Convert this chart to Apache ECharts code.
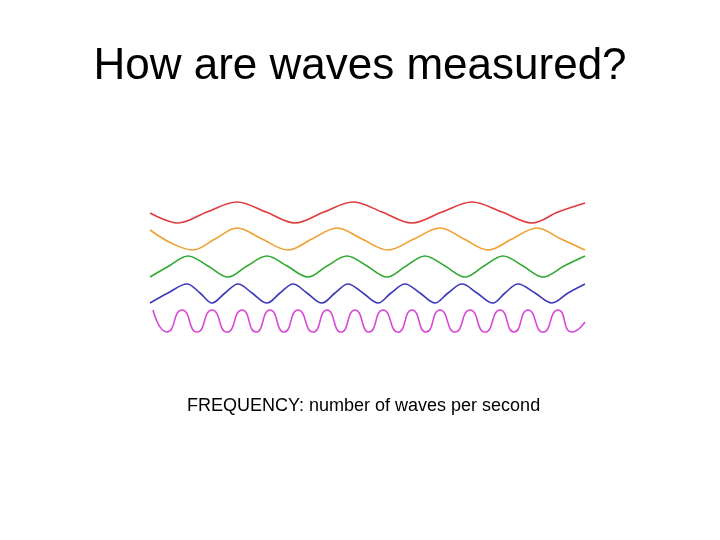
<!DOCTYPE html>
<html><head><meta charset="utf-8">
<script src="https://cdn.jsdelivr.net/npm/echarts@6/dist/echarts.min.js"></script>
<style>html,body{margin:0;padding:0;background:#fff}#c{width:720px;height:540px}</style>
</head><body><div id="c"></div>
<script>
// Wave extremes and crossings (x, y in slide pixels)
const redWave = [[150,213],[178,223],[207,212],[237,202],[266,212],[295,223],[324,212],[353,202],[382,212],[412,223],[442,212],[472,202],[502,212],[532,223],[558,212],[585,203]];
const orangeWave = [[150,230],[171,243],[193,250],[215,239],[237,228],[262,239],[288,250],[312,239],[337,228],[362,239],[388,250],[414,239],[440,228],[464,239],[488,250],[512,239],[537,228],[561,239],[585,250]];
const greenWave = [[150,277],[169,266],[188,256],[208,266],[228,277],[247,266],[267,256],[287,266],[308,277],[327,266],[347,256],[367,266],[387,277],[406,266],[425,256],[445,266],[465,277],[484,266],[503,256],[523,266],[543,277],[564,266],[585,256]];
const blueWave = [[150,303],[168,293],[187,284],[200,293],[212,303],[225,293],[238,284],[252,293],[267,303],[280,293],[293,284],[307,293],[322,303],[335,293],[348,284],[363,293],[378,303],[391,293],[405,284],[420,293],[435,303],[448,293],[462,284],[477,293],[493,303],[505,293],[518,284],[535,293],[552,303],[568,293],[585,284]];
const magentaWave = [[153,310],[167,332],[182,310],[197,332],[212,310],[227,332],[242,310],[256,332],[270,310],[284,332],[298,310],[313,332],[327,310],[341,332],[355,310],[369,332],[383,310],[398,332],[412,310],[426,332],[440,310],[455,332],[470,310],[485,332],[500,310],[514,332],[528,310],[543,332],[558,310],[572,332],[585,322]];
const waves = [
  {name:'red', data:redWave, color:'#e03a3a', smooth:0.35},
  {name:'orange', data:orangeWave, color:'#f0a030', smooth:0.35},
  {name:'green', data:greenWave, color:'#30a830', smooth:0.35},
  {name:'blue', data:blueWave, color:'#3a3ab8', smooth:0.35},
  {name:'magenta', data:magentaWave, color:'#d848d8', smooth:0.6}
];
const titleText = 'How are waves measured?';
const captionText = 'FREQUENCY: number of waves per second';

const chart = echarts.init(document.getElementById('c'));
chart.setOption({
  animation:false,
  backgroundColor:'#fff',
  title:[
    {text:titleText, left:'center', top:40, textStyle:{fontFamily:'Liberation Sans', fontSize:44, fontWeight:'normal', color:'#000'}},
    {text:captionText, left:182, top:392, textStyle:{fontFamily:'Liberation Sans', fontSize:18, fontWeight:'normal', color:'#000'}}
  ],
  grid:{left:0,right:0,top:0,bottom:0},
  xAxis:{type:'value', min:0, max:720, show:false},
  yAxis:{type:'value', min:0, max:540, inverse:true, show:false},
  series: waves.map(w=>({
    type:'line', name:w.name, data:w.data, smooth:w.smooth, showSymbol:false,
    lineStyle:{color:w.color, width:1.6}
  }))
});
</script></body></html>
